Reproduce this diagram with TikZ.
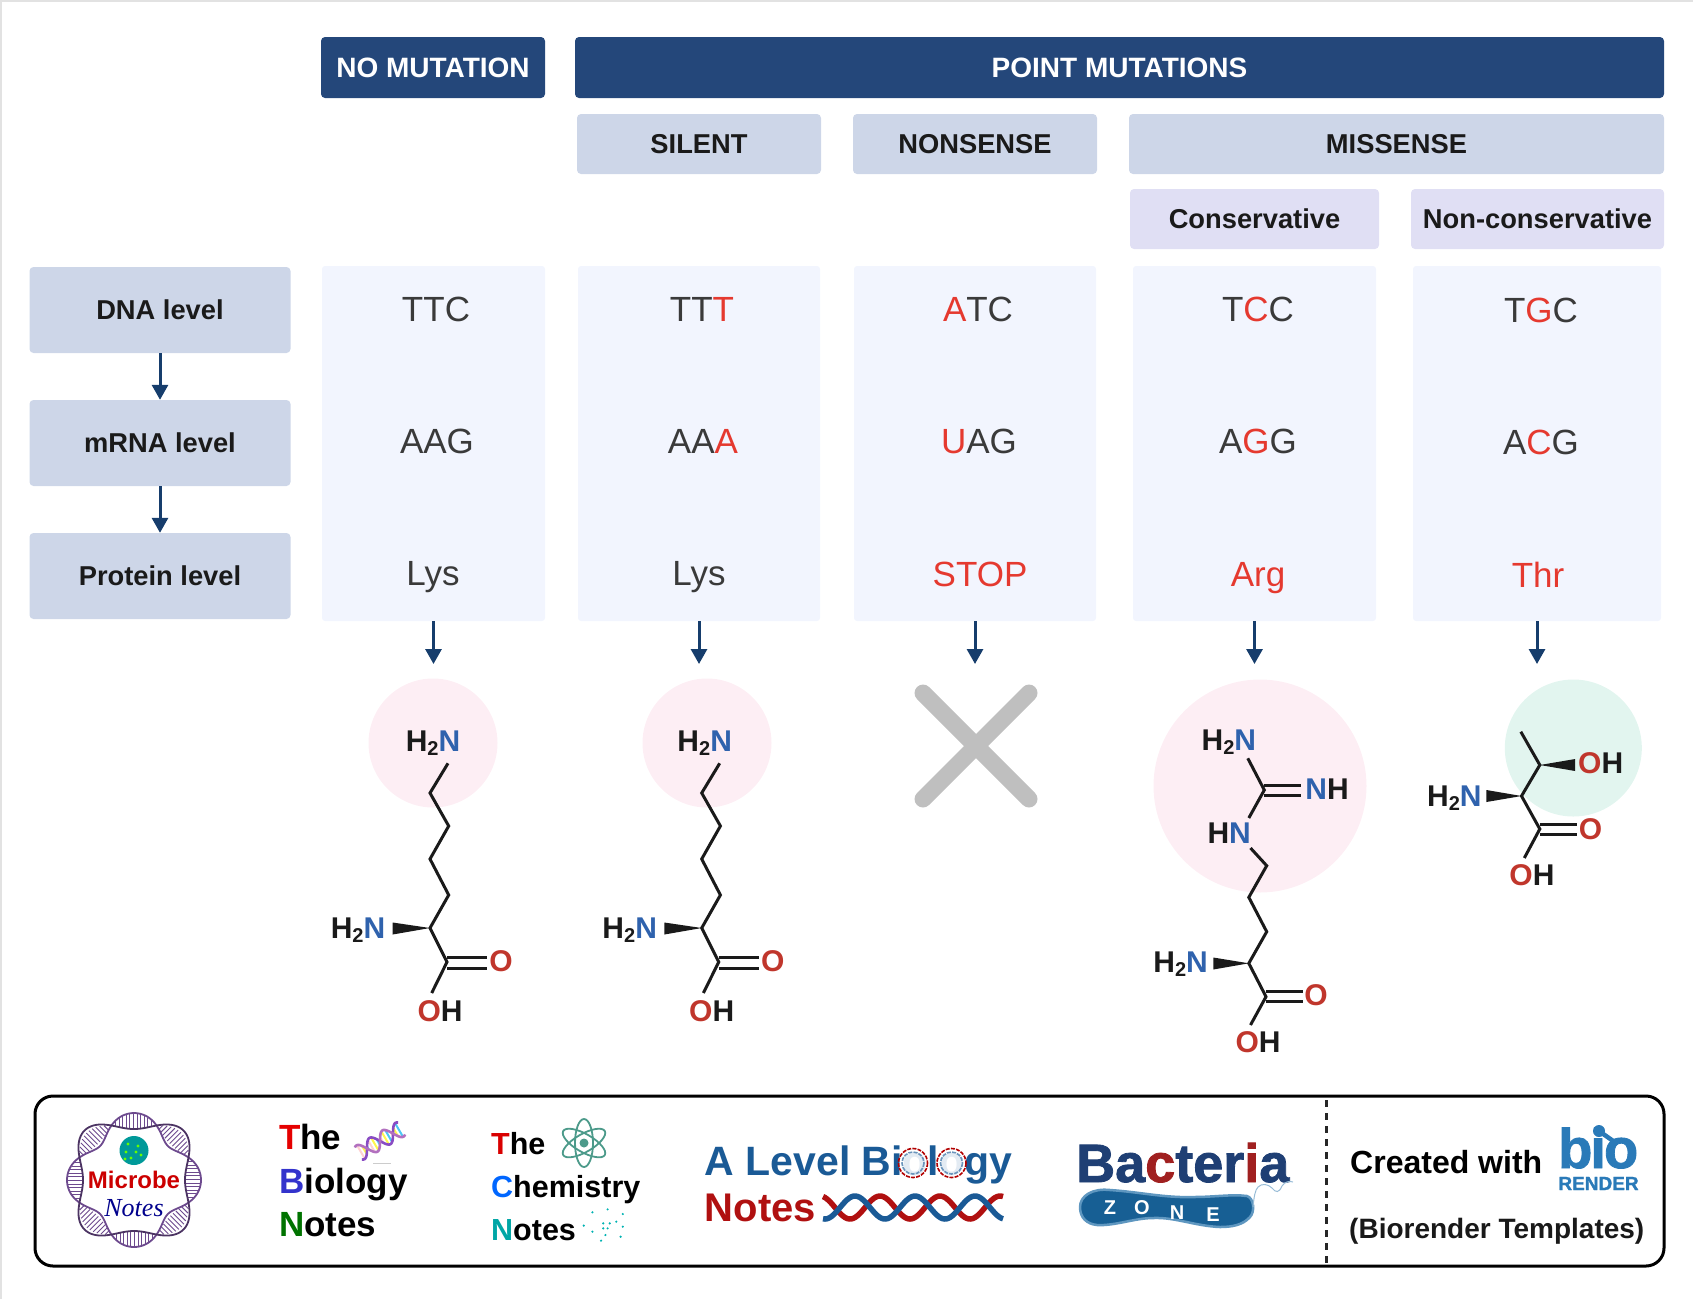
\documentclass[tikz,border=0pt]{standalone}
\usepackage{fontspec}
\setmainfont{Liberation Sans}
\newfontfamily\serifit{Liberation Serif}[ItalicFont=* Italic]
\newfontfamily\heavyfont{Liberation Sans}[BoldFeatures={FakeBold=1.5}]
\usetikzlibrary{arrows.meta}
\definecolor{navy}{HTML}{24477A}
\definecolor{pale}{HTML}{CDD6E8}
\definecolor{lav}{HTML}{E0DFF4}
\definecolor{colbg}{HTML}{F2F5FE}
\definecolor{mutred}{HTML}{E5392F}
\definecolor{seqgray}{HTML}{3A3A3A}
\definecolor{arrowblue}{HTML}{163D6C}
\definecolor{nblue}{HTML}{2F62AD}
\definecolor{ored}{HTML}{C0362C}
\definecolor{pinkbg}{HTML}{FDEEF4}
\definecolor{greenbg}{HTML}{E2F5EF}
\definecolor{bondk}{HTML}{1A1A1A}
\definecolor{xgray}{HTML}{BFBFBF}
\definecolor{helix}{HTML}{6D4A8E}
\definecolor{levelblue}{HTML}{1A5A96}
\definecolor{notesred}{HTML}{B01010}
\definecolor{bactnavy}{HTML}{1F3F74}
\definecolor{bactred}{HTML}{A02020}
\definecolor{zoneblue}{HTML}{1A6AA5}
\definecolor{biob}{HTML}{2A7AB8}
\definecolor{atomteal}{HTML}{4C9A8A}
\definecolor{edgegray}{HTML}{E2E2E2}
\newcommand{\fs}[1]{\fontsize{#1}{#1}\selectfont}
\newcommand{\rd}[1]{\textcolor{mutred}{#1}}
\newcommand{\Nn}{\textcolor{nblue}{N}}
\newcommand{\Oo}{\textcolor{ored}{O}}
\newcommand{\hhn}{H\raisebox{-4pt}{\fs{20}2}\Nn}
\tikzset{
  x=1pt,y=-1pt,
  hdr/.style={fill=navy,rounded corners=4pt,text=white,font=\bfseries\fs{28},inner sep=0pt,text height=20pt,text depth=0pt},
  sub/.style={fill=pale,rounded corners=4pt,text=bondk,font=\bfseries\fs{27.3},inner sep=0pt,text height=19.5pt,text depth=0pt},
  subl/.style={sub,fill=lav},
  colbox/.style={fill=colbg,rounded corners=3pt,inner sep=0pt},
  seq/.style={font=\fs{35},text=seqgray,inner sep=0pt,text height=25pt,text depth=0pt},
  flow/.style={draw=arrowblue,line width=3pt,-{Triangle[length=15pt,width=16pt]}},
  bond/.style={draw=bondk,line width=3pt,line join=miter},
  atomlab/.style={font=\bfseries\fs{30},text=bondk,inner sep=0pt,text height=21.5pt,text depth=0pt},
  wedgeb/.style={fill=bondk,draw=none},
  logo/.style={inner sep=0pt,anchor=base west,font=\bfseries},
}
% lysine skeleton
\newcommand{\lysine}[2]{%
\begin{scope}[xshift=#2pt]
 \draw[bond] (448,763.3)--(430,793)--(448.7,826)--(430,859)--(448.7,895)--(430,928)--(447,962)--(431.7,993);
 \draw[bond] (447,957)--(487,957) (447,968)--(487,968);
 \fill[wedgeb] (430,928)--(392.7,922.5)--(392.7,934.5)--cycle;
 \node[atomlab] (#1top) at (433,741) {\hhn};
 \node[atomlab] (#1low) at (358,928) {\hhn};
 \node[atomlab] (#1o) at (501,961) {\Oo};
 \node[atomlab] (#1oh) at (440,1011) {\Oo H};
\end{scope}}
\begin{document}
\begin{tikzpicture}
\useasboundingbox (0,0) rectangle (1693,1299);
\draw[edgegray,line width=3pt] (0,1299)--(0,0)--(1693,0);
% headers
\node[hdr,minimum width=224pt,minimum height=61pt] (nomut) at (433,67.5) {NO MUTATION};
\node[hdr,minimum width=1089pt,minimum height=61pt] (point) at (1119.5,67.5) {POINT MUTATIONS};
\node[sub,minimum width=244pt,minimum height=60pt] (silent) at (699,144) {SILENT};
\node[sub,minimum width=244pt,minimum height=60pt] (nonsense) at (975,144) {NONSENSE};
\node[sub,minimum width=535pt,minimum height=60pt] (missense) at (1396.5,144) {MISSENSE};
\node[subl,minimum width=249pt,minimum height=60pt] (cons) at (1254.5,219) {Conservative};
\node[subl,minimum width=253pt,minimum height=60pt] (noncons) at (1537.5,219) {Non-conservative};
% level boxes
\node[sub,minimum width=261pt,minimum height=86pt] (dna) at (160,310) {DNA level};
\node[sub,minimum width=261pt,minimum height=86pt] (mrna) at (160,443) {mRNA level};
\node[sub,minimum width=261pt,minimum height=86pt] (prot) at (160,576) {Protein level};
\draw[flow] (dna) -- (mrna);
\draw[flow] (mrna) -- (prot);
% columns
\node[colbox,minimum width=223pt,minimum height=355pt] (c1) at (433.5,443.5) {};
\node[colbox,minimum width=242pt,minimum height=355pt] (c2) at (699,443.5) {};
\node[colbox,minimum width=242pt,minimum height=355pt] (c3) at (975,443.5) {};
\node[colbox,minimum width=243pt,minimum height=355pt] (c4) at (1254.5,443.5) {};
\node[colbox,minimum width=248pt,minimum height=355pt] (c5) at (1537,443.5) {};
% sequences
\node[seq] (s1a) at (436,309) {TTC};
\node[seq] (s1b) at (437,441) {AAG};
\node[seq] (s1c) at (433,573) {Lys};
\node[seq] (s2a) at (702,309) {TT\rd{T}};
\node[seq] (s2b) at (703,441) {AA\rd{A}};
\node[seq] (s2c) at (699,573) {Lys};
\node[seq] (s3a) at (978,309) {\rd{A}TC};
\node[seq] (s3b) at (979,441) {\rd{U}AG};
\node[seq] (s3c) at (980,574) {\rd{STOP}};
\node[seq] (s4a) at (1258,309) {T\rd{C}C};
\node[seq] (s4b) at (1258,441) {A\rd{G}G};
\node[seq] (s4c) at (1258,574) {\rd{Arg}};
\node[seq] (s5a) at (1541,310) {T\rd{G}C};
\node[seq] (s5b) at (1541,442) {A\rd{C}G};
\node[seq] (s5c) at (1538,575) {\rd{Thr}};
% arrows to products
\coordinate (t1) at (433.5,664);
\coordinate (t2) at (699,664);
\coordinate (t3) at (975,664);
\coordinate (t4) at (1254.5,664);
\coordinate (t5) at (1537,664);
\foreach \i in {1,...,5} \draw[flow] (c\i.south) -- (t\i);
% lysine
\fill[pinkbg] (433,743) circle (64.5);
\fill[pinkbg] (707,743) circle (64.5);
\lysine{la}{0}
\lysine{lb}{271.7}
% cross
\draw[xgray,line width=17pt,line cap=round] (923,693)--(1029,799) (1029,693)--(923,799);
% arginine
\fill[pinkbg] (1260,786) circle (106.5);
\draw[bond] (1247.8,758.3)--(1264.3,790)--(1248.8,818);
\draw[bond] (1264.3,785.7)--(1301,785.7) (1264.3,795)--(1301,795);
\draw[bond] (1250.5,848)--(1266.7,865.7)--(1248.8,897.3)--(1266.7,931.7)--(1248.8,963.3)--(1266,996.7)--(1250.5,1025);
\draw[bond] (1266,991)--(1303,991) (1266,1001)--(1303,1001);
\fill[wedgeb] (1248.8,963.3)--(1213.3,957.5)--(1213.3,969.5)--cycle;
\node[atomlab] (ra) at (1228.8,740) {\hhn};
\node[atomlab] (rb) at (1327,789) {\Nn H};
\node[atomlab] (rc) at (1229.2,832.7) {H\Nn};
\node[atomlab] (rd) at (1180.6,962) {\hhn};
\node[atomlab] (re) at (1316,995) {\Oo};
\node[atomlab] (rf) at (1258,1041.7) {\Oo H};
% threonine
\fill[greenbg] (1573.3,748) circle (68.5);
\draw[bond] (1520.8,731.7)--(1539.8,765)--(1521.5,796)--(1539.8,829)--(1524.3,858);
\draw[bond] (1539.8,824)--(1577,824) (1539.8,834)--(1577,834);
\fill[wedgeb] (1539.8,765)--(1575.2,759)--(1575.2,771)--cycle;
\fill[wedgeb] (1521.5,796)--(1486.4,790)--(1486.4,802)--cycle;
\node[atomlab] (ta) at (1600.7,763) {\Oo H};
\node[atomlab] (tb) at (1454.4,795.7) {\hhn};
\node[atomlab] (tc) at (1590.4,828.3) {\Oo};
\node[atomlab] (td) at (1531.9,875) {\Oo H};
% footer
\draw[black,line width=3pt,rounded corners=18pt] (35,1096) rectangle (1664,1266);
\draw[black!85,line width=2.5pt,dash pattern=on 7pt off 6pt] (1326.5,1100)--(1326.5,1266);
% Microbe Notes logo
\begin{scope}[shift={(134,1180)}]
 \foreach \p in {0,45,...,315} {
  \begin{scope}[rotate=\p]
   \foreach \d in {-18,-14.5,...,18} {
     \pgfmathsetmacro{\am}{(9.5-1.5*cos(4*\d))*cos(4*\d)}
     \draw[helix,line width=.9pt] ({(59+\am)*cos(\d)},{59*sin(\d)}) -- ({(59-\am)*cos(\d)},{59*sin(\d)});
   }
  \end{scope}
 }
 \draw[helix,line width=1.8pt] plot[domain=0:360,samples=180,smooth cycle] (\x:{59+(9.5-1.5*cos(4*\x))*cos(4*\x)});
 \draw[helix!70!black,line width=1.8pt] plot[domain=0:360,samples=180,smooth cycle] (\x:{59-(9.5-1.5*cos(4*\x))*cos(4*\x)});
 \fill[teal!80!cyan] (0,-29.5) circle (14.5);
 \foreach \a/\b in {-6/-36,4/-34,-8/-28,2/-28,7/-25,-3/-22,-9/-21}
   \fill[green!60!yellow] (\a,\b) circle (1.6);
\end{scope}
\node[inner sep=0pt,font=\bfseries\fs{24},text=red!80!black] (mic) at (134,1180) {Microbe};
\node[inner sep=0pt,font=\serifit\itshape\fs{26},text=blue!55!black] (mnotes) at (134,1208) {Notes};
% The Biology Notes
\node[logo,font=\bfseries\fs{35}] (b1) at (279,1149.5) {\textcolor{red!90!black}{T}he};
\node[logo,font=\bfseries\fs{35}] (b2) at (279,1193.5) {\textcolor{blue!60!gray}{B}iology};
\node[logo,font=\bfseries\fs{35}] (b3) at (279,1236.5) {\textcolor{green!45!black}{N}otes};
\begin{scope}[shift={(380,1141)},rotate=30]
 \foreach \s/\cc in {-22/pink,-18/yellow,-14/cyan,-10/pink,-6/yellow,-2/cyan,2/pink,6/yellow,10/cyan,14/pink,18/yellow,22/cyan}
   \draw[line width=2pt,\cc!70!white] (\s,{8*sin(\s*12)}) -- (\s,{-8*sin(\s*12)});
 \draw[purple!45!blue!70!white,line width=2.6pt] plot[domain=-25:25,samples=40,smooth] (\x,{8*sin(\x*12)});
 \draw[magenta!45!blue!55!white,line width=2.6pt] plot[domain=-25:25,samples=40,smooth] (\x,{-8*sin(\x*12)});
\end{scope}
\draw[black!20,line width=1pt] (373,1163)--(391,1163);
% The Chemistry Notes
\node[logo,font=\bfseries\fs{30.5}] (h1) at (491,1154) {\textcolor{red!85!black}{T}he};
\node[logo,font=\bfseries\fs{30.5}] (h2) at (491,1197) {\textcolor{blue!60!cyan}{C}hemistry};
\node[logo,font=\bfseries\fs{30.5}] (h3) at (491,1240) {\textcolor{teal!70!cyan}{N}otes};
\begin{scope}[shift={(584,1143)}]
 \foreach \r in {90,30,150} \draw[atomteal,line width=1.8pt,rotate=\r] (0,0) ellipse (24 and 9);
 \fill[atomteal] (0,0) circle (4.5);
\end{scope}
\foreach \a/\b in {1320/397,1355/388,1390/402,1300/437,1345/430,1375/425,1355/445,1390/440,1320/455,1350/465,1385/470,1340/482,1360/430,1345/445}
  \fill[teal!60!cyan] ({20+\a/2.306},{1080+\b/3}) circle (1.2);
% A Level Biology Notes
\node[logo,font=\bfseries\fs{41},text=levelblue] (a1) at (704.5,1175) {A Level Bi\textcolor{levelblue!12}{o}l\textcolor{levelblue!12}{o}gy};
\foreach \cx in {913,951.5} {
  \draw[red!70!black,line width=1.6pt,dash pattern=on 4pt off 1.2pt] (\cx,1163) circle (14.5);
  \draw[levelblue!65!white,line width=1.6pt,dash pattern=on 4pt off 1.2pt] (\cx,1163) circle (11);
}
\node[logo,font=\bfseries\fs{40},text=notesred] (a2) at (704.5,1221.5) {Notes};
\draw[notesred,line width=5.5pt] plot[domain=823:1003,samples=90,smooth] (\x,{1207.5-11.5*cos((\x-880)*6)});
\draw[levelblue,line width=5.5pt] plot[domain=823:1003,samples=90,smooth] (\x,{1207.5-11.5*cos((\x-915)*6)});
% Bacteria Zone
\node[logo,font=\heavyfont\bfseries\fs{54},text=bactnavy] (z1) at (1076,1182) {Ba\textcolor{bactred}{c}ter\textcolor{bactred}{i}a};
\filldraw[fill=zoneblue!90!black,draw=zoneblue!70!white,line width=2.5pt] (1080,1207) .. controls (1080,1196) and (1092,1188) .. (1110,1190) .. controls (1140,1192) and (1165,1198) .. (1193,1197) .. controls (1215,1197) and (1232,1194) .. (1247,1196) .. controls (1254,1198) and (1255,1212) .. (1250,1217) .. controls (1243,1225) and (1232,1227) .. (1220,1227) .. controls (1195,1226) and (1175,1217) .. (1153,1218) .. controls (1135,1218) and (1115,1226) .. (1097,1225) .. controls (1087,1224) and (1080,1218) .. (1080,1207) -- cycle;
\draw[zoneblue!45!white,line width=1pt] (1253,1207) .. controls (1254,1197) and (1255,1190) .. (1258,1187) .. controls (1262,1183) and (1268,1184) .. (1272,1188) .. controls (1276,1193) and (1279,1193) .. (1282,1186) .. controls (1285,1181) and (1290,1181) .. (1293,1182);
\node[inner sep=0pt,font=\bfseries\fs{20},text=white] (z2) at (1110,1208) {Z};
\node[inner sep=0pt,font=\bfseries\fs{20},text=white] (z3) at (1142,1208) {O};
\node[inner sep=0pt,font=\bfseries\fs{20},text=white] (z4) at (1177,1213) {N};
\node[inner sep=0pt,font=\bfseries\fs{20},text=white] (z5) at (1213,1215) {E};
% BioRender
\node[logo,font=\bfseries\fs{32},text=black] (cw) at (1350,1173) {Created with};
\node[inner sep=0pt,anchor=base west,font=\heavyfont\bfseries\fs{56},text=biob,text depth=0pt] (bio) at (1558,1168) {b\hspace{-2pt}i\hspace{-2pt}o};
\draw[biob,line width=4.5pt,line cap=round] (1599,1131)--(1616,1143);
\fill[biob] (1599,1131) circle (6);
\node[inner sep=0pt,anchor=base,font=\heavyfont\bfseries\fs{19},text=biob,text height=14pt,text depth=0pt] (ren) at (1598.5,1190) {RENDER};
\node[logo,font=\bfseries\fs{28},text=black!90] (tp) at (1349,1238) {(Biorender Templates)};
\end{tikzpicture}
\end{document}
